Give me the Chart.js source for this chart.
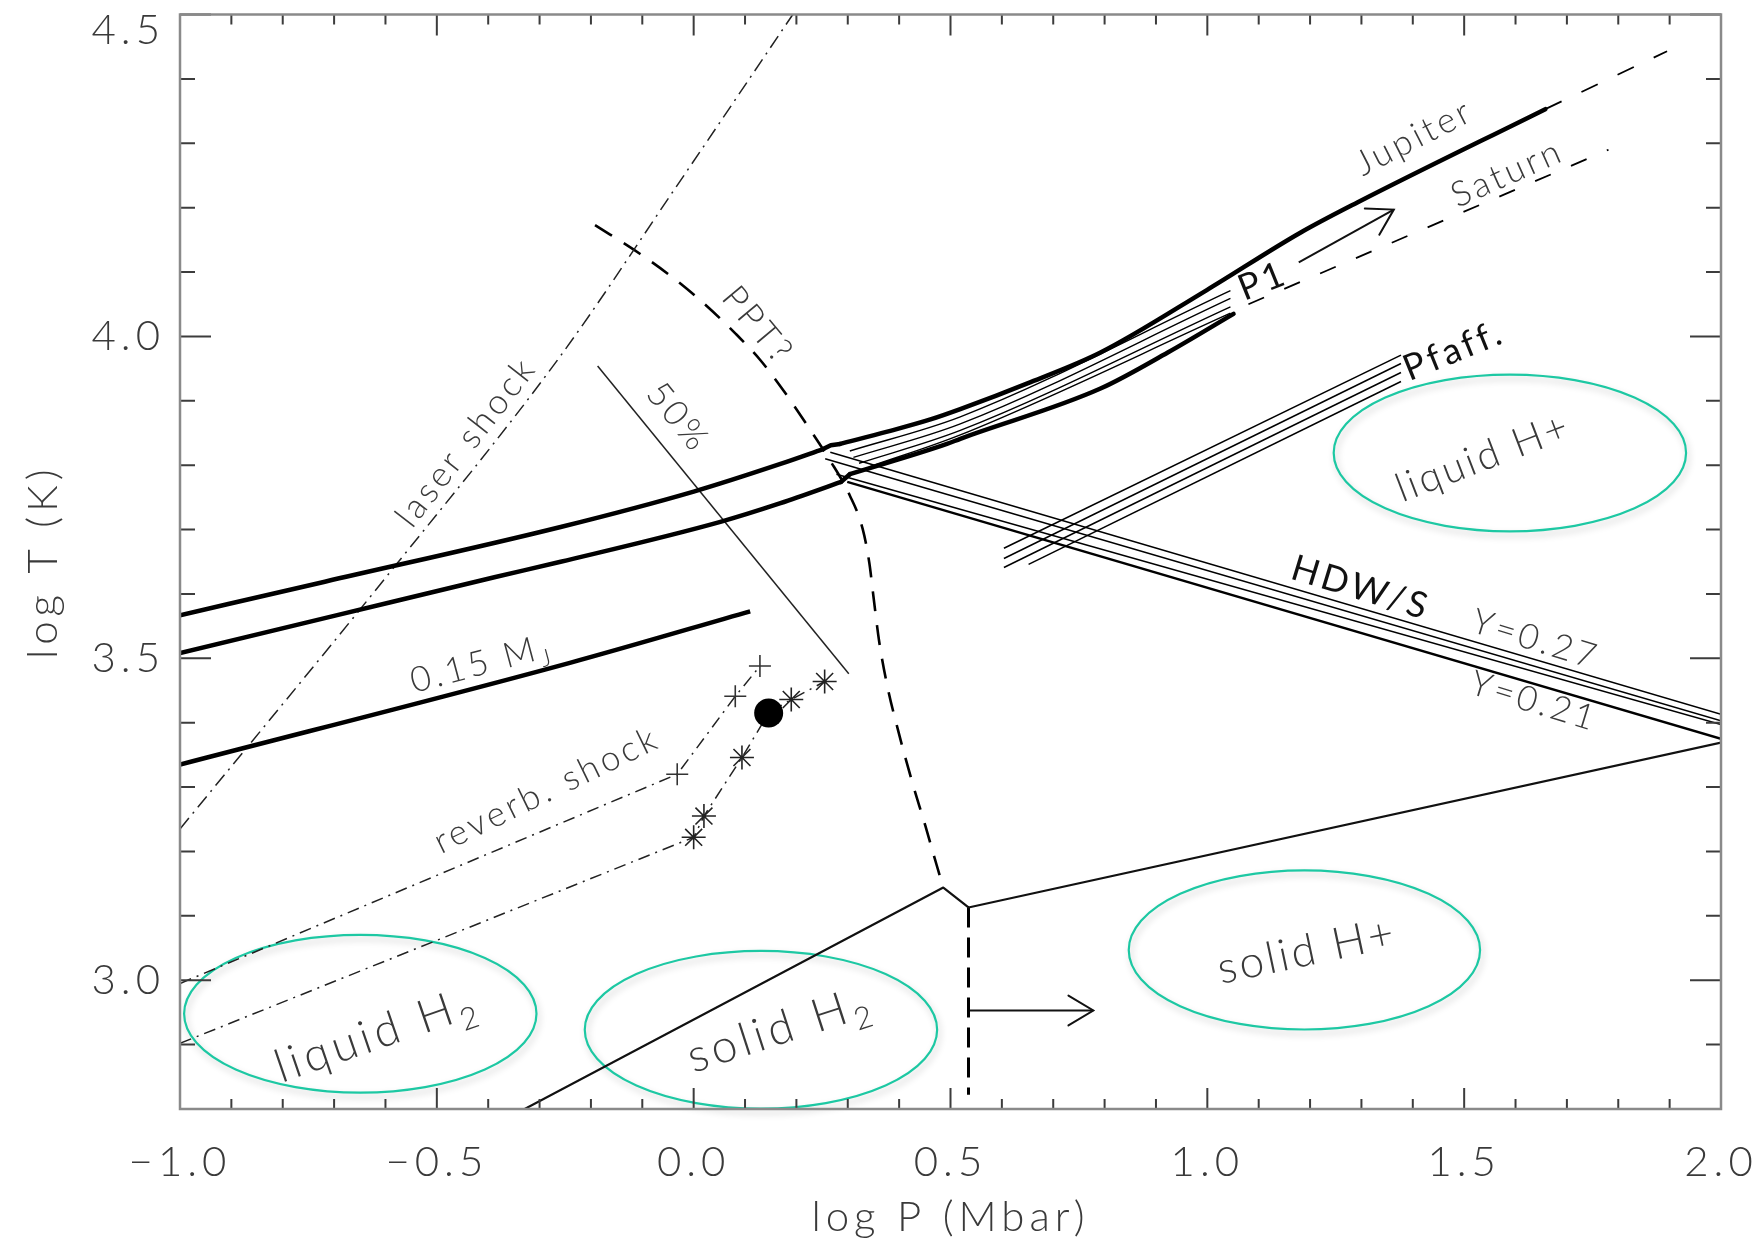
<!DOCTYPE html>
<html>
<head>
<meta charset="utf-8">
<title>Hydrogen phase diagram: log T vs log P</title>
<script src="https://cdn.jsdelivr.net/npm/chart.js@4.4.1/dist/chart.umd.min.js"></script>
<style>
html,body{margin:0;padding:0;background:#ffffff;}
canvas{display:block;}
</style>
</head>
<body>
<canvas id="chart" width="1760" height="1246"></canvas>
<script>
// ---------------- axis ticks ----------------
const xTickValues = [-1.0, -0.5, 0.0, 0.5, 1.0, 1.5, 2.0];
const yTickValues = [3.0, 3.5, 4.0, 4.5];

// ---------------- curves: log P (Mbar) / log T (K) ----------------
// Jupiter adiabat: below the kink, across the kink, above the kink
const jupiterLowP = [-1.0, -0.718, -0.259, 0.0, 0.169, 0.252];
const jupiterLowT = [3.567, 3.619, 3.704, 3.759, 3.802, 3.825];
const jupiterKinkP = [0.252, 0.267, 0.285];
const jupiterKinkT = [3.825, 3.831, 3.833];
const jupiterHighP = [0.285, 0.377, 0.461, 0.519, 0.656, 0.792, 0.999, 1.181, 1.292, 1.658];
const jupiterHighT = [3.833, 3.852, 3.871, 3.887, 3.929, 3.975, 4.072, 4.161, 4.208, 4.353];
const jupiterExtP = [1.658, 1.895];
const jupiterExtT = [4.353, 4.443];

// Saturn adiabat
const saturnLowP = [-1.0, -0.694, -0.388, -0.259, 0.052, 0.169, 0.287];
const saturnLowT = [3.508, 3.567, 3.626, 3.650, 3.712, 3.741, 3.774];
const saturnKinkP = [0.287, 0.304];
const saturnKinkT = [3.774, 3.786];
const saturnHighP = [0.304, 0.493, 0.519, 0.792, 0.923, 1.051];
const saturnHighT = [3.786, 3.833, 3.841, 3.919, 3.975, 4.035];
const saturnExtP = [1.080, 1.781];
const saturnExtT = [4.050, 4.290];

const mass015P = [-1.0, -0.241, 0.110];
const mass015T = [3.335, 3.493, 3.573];

const laserP = [-1.0, -0.606, -0.259, -0.036, 0.193];
const laserT = [3.235, 3.619, 3.970, 4.230, 4.500];

const pptP = [-0.192, -0.104, -0.032, 0.027, 0.082, 0.130, 0.173, 0.221, 0.265, 0.304, 0.329, 0.342, 0.350, 0.361, 0.377, 0.398, 0.425, 0.451, 0.473, 0.486];
const pptT = [4.173, 4.128, 4.086, 4.046, 4.004, 3.963, 3.918, 3.862, 3.808, 3.753, 3.701, 3.648, 3.596, 3.527, 3.457, 3.388, 3.309, 3.240, 3.179, 3.144];

const fiftyP = [-0.187, 0.302];
const fiftyT = [3.954, 3.476];

const meltP = [-0.329, 0.486, 0.535, 2.0];
const meltT = [2.800, 3.144, 3.113, 3.369];

const solidBoundP = [0.535, 0.535];
const solidBoundT = [3.113, 2.822];

// HDW/S plasma phase transition band (four curves)
const hdw1P = [0.266, 2.0];  const hdw1T = [3.820, 3.413];
const hdw2P = [0.256, 2.0];  const hdw2T = [3.810, 3.403];
const hdw3P = [0.278, 2.0];  const hdw3T = [3.786, 3.397];
const hdw4P = [0.299, 2.0];  const hdw4T = [3.774, 3.375];

// Pfaff. band
const pf1P = [0.604, 1.377];  const pf1T = [3.671, 3.971];
const pf2P = [0.604, 1.377];  const pf2T = [3.655, 3.958];
const pf3P = [0.604, 1.377];  const pf3T = [3.641, 3.944];
const pf4P = [0.652, 1.377];  const pf4T = [3.646, 3.930];

// P1 hatched band between the adiabats
const h1P = [0.304, 0.519, 1.045];  const h1T = [3.822, 3.875, 4.071];
const h2P = [0.311, 0.519, 1.045];  const h2T = [3.812, 3.864, 4.059];
const h3P = [0.322, 0.519, 1.045];  const h3T = [3.803, 3.854, 4.046];
const h4P = [0.344, 0.519, 1.045];  const h4T = [3.798, 3.847, 4.036];

// reverberating shock data
const revUpP = [-1.0, -0.032, 0.081, 0.129];
const revUpT = [2.995, 3.320, 3.441, 3.488];
const revLoP = [-1.0, 0.0, 0.020, 0.094, 0.146, 0.190, 0.255];
const revLoT = [2.902, 3.222, 3.255, 3.346, 3.415, 3.436, 3.464];
const dotP = [0.146];
const dotT = [3.415];

// arrows (tail, tip)
const p1ArrowP = [1.178, 1.363];   const p1ArrowT = [4.115, 4.197];
const solidArrowP = [0.535, 0.778]; const solidArrowT = [2.953, 2.953];

// phase regions (ellipses): centre and half-axes in data units
const regionNames = ['liquid H_2', 'solid H_2', 'solid H+', 'liquid H+'];
const regionP = [-0.649, 0.131, 1.189, 1.589];
const regionT = [2.948, 2.923, 3.047, 3.819];
const regionHalfP = [0.343, 0.343, 0.342, 0.343];
const regionHalfT = [0.1225, 0.1225, 0.1235, 0.1217];
const regionLabelP = [-0.617, 0.168, 1.194, 1.537];
const regionLabelT = [2.916, 2.924, 3.045, 3.812];
const regionLabelRot = [-19, -18, -12, -21];
const regionLabelSize = [46, 46, 44, 40];

// curve annotations
const annText = ['laser shock', 'PPT?', '50%', '0.15 M_J', 'reverb. shock', 'Jupiter', 'Saturn', 'P1', 'Pfaff.', 'HDW/S', 'Y=0.27', 'Y=0.21'];
const annP = [-0.443, 0.125, -0.030, -0.414, -0.286, 1.403, 1.584, 1.108, 1.480, 1.299, 1.639, 1.636];
const annT = [3.836, 4.017, 3.874, 3.492, 3.2955, 4.309, 4.253, 4.086, 3.978, 3.609, 3.529, 3.433];
const annRot = [-52, 50, 51, -15, -26, -27, -24, -22, -22, 17, 17, 17];
const annDark = [false, false, false, false, false, false, false, true, true, true, false, false];

// ---------------- helpers ----------------
const FONT = "Lato, 'Open Sans', 'DejaVu Sans', sans-serif";
const TEXT = '#3a3a3a';

function pts(P, T) { return P.map((p, i) => ({ x: p, y: T[i] })); }
function curve(P, T, width, dash, extra) {
  return Object.assign({
    data: pts(P, T), showLine: true, borderColor: '#000', backgroundColor: '#000',
    borderWidth: width, borderDash: dash || [], pointRadius: 0, pointHoverRadius: 0,
    tension: 0, fill: false, borderCapStyle: 'butt', borderJoinStyle: 'round'
  }, extra || {});
}
const SMOOTH = { cubicInterpolationMode: 'monotone' };
const THICK = { borderCapStyle: 'round' };
const THICK_SMOOTH = { borderCapStyle: 'round', cubicInterpolationMode: 'monotone' };
const DASHDOT = [12, 6, 2, 6];

const datasets = [
  { data: pts(dotP, dotT), showLine: false, pointStyle: 'circle', pointRadius: 14.5, pointBackgroundColor: '#000', pointBorderWidth: 0, pointHoverRadius: 14.5 },
  curve(revUpP, revUpT, 1.5, DASHDOT, { pointStyle: 'cross', pointRadius: [0, 11, 11, 11], pointBorderColor: '#333', pointBorderWidth: 1.6, borderColor: '#222' }),
  curve(revLoP, revLoT, 1.5, DASHDOT, { pointStyle: 'star', pointRadius: [0, 12, 12, 12, 12, 12, 12], pointBorderColor: '#222', pointBorderWidth: 1.6, borderColor: '#222' }),
  curve(jupiterLowP, jupiterLowT, 4.5, null, THICK_SMOOTH),
  curve(jupiterKinkP, jupiterKinkT, 4.5, null, THICK),
  curve(jupiterHighP, jupiterHighT, 4.5, null, THICK_SMOOTH),
  curve(saturnLowP, saturnLowT, 4.5, null, THICK_SMOOTH),
  curve(saturnKinkP, saturnKinkT, 4.5, null, THICK),
  curve(saturnHighP, saturnHighT, 4.5, null, THICK_SMOOTH),
  curve(mass015P, mass015T, 4.5, null, SMOOTH),
  curve(jupiterExtP, jupiterExtT, 1.8, [18, 22]),
  curve(saturnExtP, saturnExtT, 1.8, [17, 22]),
  curve(laserP, laserT, 1.5, [14, 6, 2, 6], Object.assign({ borderColor: '#222' }, SMOOTH)),
  curve(pptP, pptT, 2.6, [20, 14], SMOOTH),
  curve(fiftyP, fiftyT, 1.5, null, { borderColor: '#222' }),
  curve(meltP, meltT, 2.2, null, { borderColor: '#111' }),
  curve(solidBoundP, solidBoundT, 3, [20, 10]),
  curve(hdw1P, hdw1T, 1.5), curve(hdw2P, hdw2T, 1.5), curve(hdw3P, hdw3T, 1.5), curve(hdw4P, hdw4T, 2.4),
  curve(pf1P, pf1T, 1.5), curve(pf2P, pf2T, 1.5), curve(pf3P, pf3T, 1.5), curve(pf4P, pf4T, 1.5),
  curve(h1P, h1T, 1.4, null, SMOOTH), curve(h2P, h2T, 1.4, null, SMOOTH), curve(h3P, h3T, 1.4, null, SMOOTH), curve(h4P, h4T, 1.4, null, SMOOTH),
  curve(p1ArrowP, p1ArrowT, 2, null, { borderColor: '#111' }),
  curve(solidArrowP, solidArrowT, 2, null, { borderColor: '#111' })
];

function drawLabel(ctx, text, px, py, rotDeg, size, color, spacing, weight) {
  ctx.save();
  ctx.translate(px, py);
  ctx.rotate(rotDeg * Math.PI / 180);
  ctx.fillStyle = color;
  ctx.textBaseline = 'middle';
  ctx.textAlign = 'left';
  try { ctx.letterSpacing = spacing + 'px'; } catch (e) {}
  const parts = text.split('_');
  const mainFont = `${weight} ${size}px ${FONT}`;
  const subFont = `${weight} ${Math.round(size * 0.68)}px ${FONT}`;
  ctx.font = mainFont;
  const w1 = ctx.measureText(parts[0]).width;
  let w2 = 0;
  if (parts[1]) { ctx.font = subFont; w2 = ctx.measureText(parts[1]).width; }
  const x0 = -(w1 + w2) / 2;
  ctx.font = mainFont;
  ctx.fillText(parts[0], x0, 0);
  if (parts[1]) { ctx.font = subFont; ctx.fillText(parts[1], x0 + w1, size * 0.34); }
  ctx.restore();
}

function arrowHead(ctx, x, y, P, T) {
  const x0 = x.getPixelForValue(P[0]), y0 = y.getPixelForValue(T[0]);
  const x1 = x.getPixelForValue(P[1]), y1 = y.getPixelForValue(T[1]);
  const ang = Math.atan2(y1 - y0, x1 - x0);
  const L = 29, half = 31 * Math.PI / 180;
  ctx.beginPath();
  ctx.moveTo(x1 - L * Math.cos(ang - half), y1 - L * Math.sin(ang - half));
  ctx.lineTo(x1, y1);
  ctx.lineTo(x1 - L * Math.cos(ang + half), y1 - L * Math.sin(ang + half));
  ctx.stroke();
}

const spacing = {
  id: 'spacing',
  beforeDraw(chart) { try { chart.ctx.letterSpacing = '5px'; } catch (e) {} },
  beforeDatasetsDraw(chart) { try { chart.ctx.letterSpacing = '0px'; } catch (e) {} }
};

const overlay = {
  id: 'overlay',
  beforeDatasetsDraw(chart) {
    const { ctx, scales: { x, y } } = chart;
    for (let i = 0; i < regionP.length; i++) {
      const cx = x.getPixelForValue(regionP[i]);
      const cy = y.getPixelForValue(regionT[i]);
      const rx = Math.abs(x.getPixelForValue(regionP[i] + regionHalfP[i]) - cx);
      const ry = Math.abs(y.getPixelForValue(regionT[i] + regionHalfT[i]) - cy);
      ctx.save();
      ctx.beginPath();
      ctx.ellipse(cx, cy, rx, ry, 0, 0, Math.PI * 2);
      ctx.shadowColor = 'rgba(0,0,0,0.22)';
      ctx.shadowBlur = 7; ctx.shadowOffsetX = 2; ctx.shadowOffsetY = 4;
      ctx.lineWidth = 2.2; ctx.strokeStyle = '#1dc8a3';
      ctx.stroke();
      ctx.restore();
    }
  },
  afterDatasetsDraw(chart) {
    const { ctx, scales: { x, y } } = chart;
    ctx.save();
    ctx.strokeStyle = '#111'; ctx.lineWidth = 2; ctx.lineCap = 'round'; ctx.lineJoin = 'miter';
    arrowHead(ctx, x, y, p1ArrowP, p1ArrowT);
    arrowHead(ctx, x, y, solidArrowP, solidArrowT);
    ctx.restore();
    for (let i = 0; i < annText.length; i++) {
      drawLabel(ctx, annText[i], x.getPixelForValue(annP[i]), y.getPixelForValue(annT[i]), annRot[i],
        annDark[i] ? 36 : 35, annDark[i] ? '#111' : TEXT, 3.5, annDark[i] ? 400 : 300);
    }
    for (let i = 0; i < regionNames.length; i++) {
      drawLabel(ctx, regionNames[i], x.getPixelForValue(regionLabelP[i]), y.getPixelForValue(regionLabelT[i]),
        regionLabelRot[i], regionLabelSize[i], TEXT, regionLabelSize[i] >= 46 ? 4.5 : 3, 300);
    }
  },
  afterDraw(chart) {
    const { ctx, chartArea: a, scales: { x, y } } = chart;
    ctx.save();
    ctx.strokeStyle = '#3c3c3c'; ctx.lineWidth = 2;
    ctx.beginPath();
    for (let k = 0; k <= 30; k++) {
      const v = -1 + k * 0.1;
      const px = x.getPixelForValue(v);
      const len = (k % 5 === 0) ? 21 : 10;
      ctx.moveTo(px, a.bottom); ctx.lineTo(px, a.bottom - len);
      ctx.moveTo(px, a.top); ctx.lineTo(px, a.top + len);
    }
    for (let k = 0; k <= 17; k++) {
      const v = 2.8 + k * 0.1;
      const py = y.getPixelForValue(v);
      const major = Math.abs(v * 2 - Math.round(v * 2)) < 1e-6;
      const len = major ? 31 : 15;
      ctx.moveTo(a.left, py); ctx.lineTo(a.left + len, py);
      ctx.moveTo(a.right, py); ctx.lineTo(a.right - len, py);
    }
    ctx.stroke();
    ctx.strokeStyle = '#8a8a8a'; ctx.lineWidth = 2.5;
    ctx.strokeRect(a.left, a.top, a.right - a.left, a.bottom - a.top);
    ctx.restore();
  }
};

function zeroPad(s) { s.paddingTop = 0; s.paddingBottom = 0; s.paddingLeft = 0; s.paddingRight = 0; }

new Chart(document.getElementById('chart').getContext('2d'), {
  type: 'scatter',
  data: { datasets },
  options: {
    responsive: false,
    animation: false,
    devicePixelRatio: 1,
    events: [],
    layout: { padding: { left: 0, right: 39, top: 11, bottom: 0 } },
    plugins: { legend: { display: false }, tooltip: { enabled: false } },
    scales: {
      x: {
        type: 'linear', position: 'bottom', min: -1, max: 2,
        afterBuildTicks(s) { s.ticks = xTickValues.map(v => ({ value: v })); },
        afterFit(s) { s.height = 137; zeroPad(s); },
        grid: { display: false, drawTicks: false },
        border: { display: false },
        ticks: {
          autoSkip: false, maxRotation: 0, minRotation: 0, padding: 28, color: TEXT,
          font: { family: FONT, size: 42, weight: '300' },
          callback: v => (v < -1e-9 ? '\u2212' : '') + Math.abs(v).toFixed(1)
        },
        title: { display: true, text: 'log P (Mbar)', color: TEXT, font: { family: FONT, size: 42, weight: '300' }, padding: { top: 0, bottom: 3 } }
      },
      y: {
        type: 'linear', position: 'left', min: 2.8, max: 4.5,
        afterBuildTicks(s) { s.ticks = [2.8].concat(yTickValues).map(v => ({ value: v })); },
        afterFit(s) { s.width = 180; zeroPad(s); },
        grid: { display: false, drawTicks: false },
        border: { display: false },
        ticks: {
          autoSkip: false, padding: 15, color: TEXT,
          font: c => ({ family: FONT, size: 42, weight: '300', lineHeight: (c.tick && c.tick.value > 4.45) ? 0.75 : 1.2 }),
          callback: v => v < 2.9 ? '' : (v > 4.45 ? ['', v.toFixed(1)] : v.toFixed(1))
        },
        title: { display: true, text: 'log T (K)', color: TEXT, font: { family: FONT, size: 42, weight: '300' }, padding: { top: 18, bottom: 0 } }
      }
    }
  },
  plugins: [spacing, overlay]
});
</script>
</body>
</html>
